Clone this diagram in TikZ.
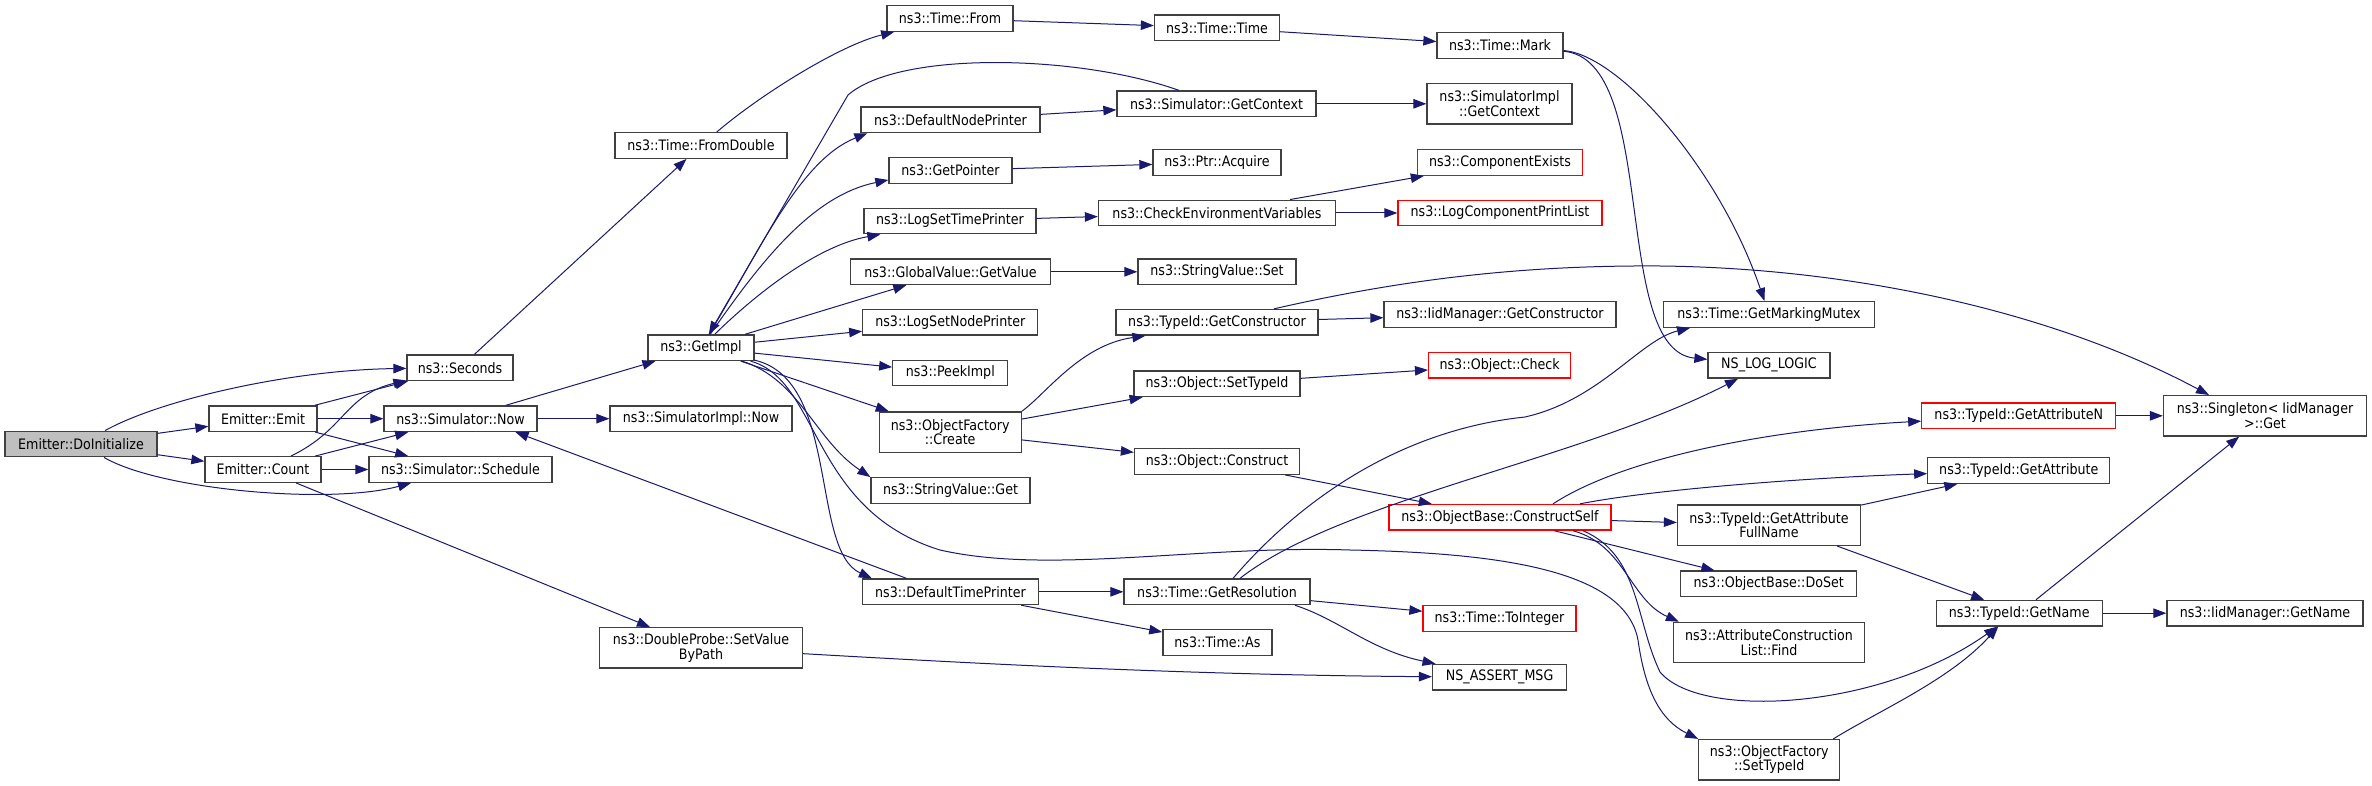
\documentclass[tikz,border=0pt]{standalone}
\usepackage{fontspec}
\setmainfont{DejaVu Sans}[FakeStretch=0.88]
\usepackage{xcolor}
\usepackage{tikz}
\usetikzlibrary{arrows.meta}
\definecolor{edgeblue}{RGB}{25,25,112}
\definecolor{boxline}{RGB}{64,64,64}
\definecolor{rootfill}{RGB}{191,191,191}

\begin{document}
\begin{tikzpicture}[
    x=1pt, y=-1pt,
    fn/.style={draw=boxline,line width=1.3pt,fill=white,inner sep=0pt,minimum height=25.6pt,
      font=\fontsize{14.4}{14.6}\selectfont},
    fn2/.style={fn,minimum height=40.3pt,align=center},
    fnred/.style={fn,draw=red},
    root/.style={fn,fill=rootfill},
    call/.style={draw=edgeblue,line width=1pt,->},
    >={Triangle[length=13pt,width=9.5pt]}
]
\useasboundingbox (0,0) rectangle (2372,786);
% columns left to right
\node[root, minimum width=152pt] (doinit) at (81,444) {Emitter::DoInitialize};
\node[fn, minimum width=108pt] (emit) at (263,418.7) {Emitter::Emit};
\node[fn, minimum width=116pt] (count) at (263,469.5) {Emitter::Count};
\node[fn, minimum width=106pt] (seconds) at (460,367.7) {ns3::Seconds};
\node[fn, minimum width=153pt] (simnow) at (460.5,418.7) {ns3::Simulator::Now};
\node[fn, minimum width=183pt] (schedule) at (460.5,469.5) {ns3::Simulator::Schedule};
\node[fn, minimum width=182pt] (simimplnow) at (701,418.7) {ns3::SimulatorImpl::Now};
\node[fn, minimum width=106pt] (getimpl) at (701,347.7) {ns3::GetImpl};
\node[fn, minimum width=172pt] (fromdouble) at (701,145.5) {ns3::Time::FromDouble};
\node[fn2, minimum width=203pt] (setvalue) at (701,647.8) {ns3::DoubleProbe::SetValue\\ByPath};
\node[fn, minimum width=126pt] (timefrom) at (950,18.5) {ns3::Time::From};
\node[fn, minimum width=179pt] (defnodeprinter) at (950.5,119.8) {ns3::DefaultNodePrinter};
\node[fn, minimum width=123pt] (getpointer) at (950.5,170.5) {ns3::GetPointer};
\node[fn, minimum width=172pt] (logsettime) at (950,221) {ns3::LogSetTimePrinter};
\node[fn, minimum width=200pt] (globalvalue) at (950.5,271.8) {ns3::GlobalValue::GetValue};
\node[fn, minimum width=175pt] (logsetnode) at (950.3,322.3) {ns3::LogSetNodePrinter};
\node[fn, minimum width=115pt] (peekimpl) at (950.3,373) {ns3::PeekImpl};
\node[fn2, minimum width=142pt] (ofcreate) at (950.2,432) {ns3::ObjectFactory\\::Create};
\node[fn, minimum width=159pt] (svget) at (950.5,490.5) {ns3::StringValue::Get};
\node[fn, minimum width=176pt] (deftimeprinter) at (950.5,591.8) {ns3::DefaultTimePrinter};
\node[fn, minimum width=125pt] (timetime) at (1217,27.8) {ns3::Time::Time};
\node[fn, minimum width=199pt] (getcontext) at (1216.5,103.8) {ns3::Simulator::GetContext};
\node[fn, minimum width=128pt] (acquire) at (1217,162.5) {ns3::Ptr::Acquire};
\node[fn, minimum width=237pt] (checkenv) at (1217,213) {ns3::CheckEnvironmentVariables};
\node[fn, minimum width=158pt] (svset) at (1217,271.8) {ns3::StringValue::Set};
\node[fn, minimum width=202pt] (getconstructor) at (1217,322.3) {ns3::TypeId::GetConstructor};
\node[fn, minimum width=166pt] (objsettypeid) at (1217,383.8) {ns3::Object::SetTypeId};
\node[fn, minimum width=165pt] (objconstruct) at (1217,461.5) {ns3::Object::Construct};
\node[fn, minimum width=186pt] (getresolution) at (1217,591.8) {ns3::Time::GetResolution};
\node[fn, minimum width=109pt] (timeas) at (1217.4,642.5) {ns3::Time::As};
\node[fn, minimum width=126pt] (timemark) at (1500,45.5) {ns3::Time::Mark};
\node[fn2, minimum width=145pt] (simimplgetcontext) at (1499.5,103.8) {ns3::SimulatorImpl\\::GetContext};
\node[fnred, minimum width=165pt] (compexists) at (1500,162.5) {ns3::ComponentExists};
\node[fnred, minimum width=204pt] (logcompprint) at (1500,213) {ns3::LogComponentPrintList};
\node[fn, minimum width=232pt] (iidgetconstructor) at (1500,314.5) {ns3::IidManager::GetConstructor};
\node[fnred, minimum width=142pt] (objcheck) at (1499.6,365.3) {ns3::Object::Check};
\node[fnred, minimum width=222pt] (constructself) at (1500,517.3) {ns3::ObjectBase::ConstructSelf};
\node[fnred, minimum width=153pt] (tointeger) at (1499.5,618.5) {ns3::Time::ToInteger};
\node[fn, minimum width=134pt] (nsassert) at (1499.6,677.2) {NS\_ASSERT\_MSG};
\node[fn, minimum width=211pt] (markingmutex) at (1769,314.5) {ns3::Time::GetMarkingMutex};
\node[fn, minimum width=122pt] (nsloglogic) at (1769,365.3) {NS\_LOG\_LOGIC};
\node[fn2, minimum width=183pt] (getattrfullname) at (1769,525.2) {ns3::TypeId::GetAttribute\\FullName};
\node[fn, minimum width=176pt] (doset) at (1768.7,583.8) {ns3::ObjectBase::DoSet};
\node[fn2, minimum width=191pt] (attrfind) at (1769,642.5) {ns3::AttributeConstruction\\List::Find};
\node[fn2, minimum width=141pt] (ofsettypeid) at (1769.3,759.7) {ns3::ObjectFactory\\::SetTypeId};
\node[fnred, minimum width=194pt] (getattrn) at (2018.8,415.8) {ns3::TypeId::GetAttributeN};
\node[fn, minimum width=182pt] (getattribute) at (2018.8,470.5) {ns3::TypeId::GetAttribute};
\node[fn, minimum width=166pt] (getname) at (2019.2,613.2) {ns3::TypeId::GetName};
\node[fn2, minimum width=203pt] (singleton) at (2265,415.8) {ns3::Singleton< IidManager\\>::Get};
\node[fn, minimum width=196pt] (iidgetname) at (2265,613.2) {ns3::IidManager::GetName};
% calls
\draw[call] (doinit) -- (emit);
\draw[call] (doinit) -- (count);
\draw[call] (doinit) .. controls (160,400) and (290,370) .. (seconds);
\draw[call] (doinit) .. controls (160,490) and (330,505) .. (schedule);
\draw[call] (emit) -- (seconds);
\draw[call] (emit) -- (simnow);
\draw[call] (emit) -- (schedule);
\draw[call] (count) .. controls (345,430) and (345,395) .. (seconds);
\draw[call] (count) -- (simnow);
\draw[call] (count) -- (schedule);
\draw[call] (count) -- (setvalue);
\draw[call] (seconds) -- (fromdouble);
\draw[call] (simnow) -- (getimpl);
\draw[call] (simnow) -- (simimplnow);
\draw[call] ([xshift=-44pt]deftimeprinter.north) -- ([xshift=55pt]simnow.south);
\draw[call] (fromdouble) .. controls (760,95) and (840,45) .. (timefrom);
\draw[call] (timefrom) -- (timetime);
\draw[call] (timetime) -- (timemark);
\draw[call] (timemark) .. controls (1620,55) and (1720,170) .. (markingmutex);
\draw[call] (timemark) .. controls (1660,60) and (1610,350) .. (nsloglogic);
\draw[call] (getcontext) .. controls (1080,55) and (900,50) .. (848,95) -- (getimpl);
\draw[call] (getcontext) -- (simimplgetcontext);
\draw[call] (getimpl) .. controls (760,250) and (800,160) .. ([xshift=7pt]defnodeprinter.south west);
\draw[call] (defnodeprinter) -- (getcontext);
\draw[call] (getimpl) .. controls (765,255) and (815,195) .. ([yshift=4pt]getpointer.south west);
\draw[call] (getpointer) -- (acquire);
\draw[call] (getimpl) .. controls (760,290) and (820,245) .. ([xshift=17pt]logsettime.south west);
\draw[call] (logsettime) -- (checkenv);
\draw[call] ([xshift=73pt]checkenv.north) -- (compexists);
\draw[call] (checkenv) -- (logcompprint);
\draw[call] (getimpl) -- (globalvalue);
\draw[call] (globalvalue) -- (svset);
\draw[call] (getimpl) -- (logsetnode);
\draw[call] (getimpl) -- (peekimpl);
\draw[call] (getimpl) -- (ofcreate);
\draw[call] (getimpl) .. controls (800,380) and (815,440) .. (svget.north west);
\draw[call] (getimpl) .. controls (840,380) and (810,550) .. ([xshift=10pt]deftimeprinter.north west);
\draw[call] (getimpl) .. controls (820,380) and (810,510) .. (940,550)
    .. controls (1050,575) and (1200,545) .. (1350,550)
    .. controls (1500,553) and (1625,570) .. (1638,640)
    .. controls (1645,690) and (1660,720) .. (ofsettypeid.north west);
\draw[call] (ofcreate.north east) .. controls (1045,395) and (1080,345) .. ([xshift=30pt]getconstructor.south west);
\draw[call] (ofcreate) -- (objsettypeid);
\draw[call] (ofcreate) -- (objconstruct);
\draw[call] (getconstructor) -- (iidgetconstructor);
\draw[call] ([xshift=57pt]getconstructor.north) .. controls (1400,280) and (1520,265) .. (1660,266)
    .. controls (1850,268) and (2050,310) .. ([xshift=-56pt]singleton.north);
\draw[call] (objsettypeid) -- (objcheck);
\draw[call] (objconstruct) -- (constructself);
\draw[call] (deftimeprinter) -- (getresolution);
\draw[call] (deftimeprinter) -- (timeas);
\draw[call] ([xshift=16pt]getresolution.north) .. controls (1300,500) and (1400,430) .. (1525,417)
    .. controls (1600,400) and (1640,340) .. ([xshift=-79pt]markingmutex.south);
\draw[call] ([xshift=23pt]getresolution.north) .. controls (1340,500) and (1580,460) .. ([xshift=-31pt]nsloglogic.south);
\draw[call] (getresolution) -- (tointeger);
\draw[call] ([xshift=78pt]getresolution.south) .. controls (1340,620) and (1370,650) .. (nsassert);
\draw[call] (setvalue) .. controls (1000,665) and (1200,675) .. (nsassert);
\draw[call] ([xshift=53pt]constructself.north) .. controls (1620,460) and (1760,430) .. (getattrn);
\draw[call] ([xshift=80pt]constructself.north) .. controls (1650,490) and (1800,478) .. (getattribute);
\draw[call] (constructself) -- (getattrfullname);
\draw[call] (constructself) -- (doset);
\draw[call] ([xshift=73pt]constructself.south) .. controls (1625,545) and (1630,600) .. ([xshift=6pt]attrfind.north west);
\draw[call] ([xshift=83pt]constructself.south) .. controls (1640,555) and (1635,620) .. (1660,672)
    .. controls (1700,720) and (1880,710) .. ([xshift=-22pt]getname.south);
\draw[call] (getattrn) -- (singleton);
\draw[call] (getattrfullname) -- (getattribute);
\draw[call] ([xshift=68pt]getattrfullname.south) -- ([xshift=-35pt]getname.north);
\draw[call] (getname) -- (singleton);
\draw[call] (getname) -- (iidgetname);
\draw[call] ([xshift=64pt]ofsettypeid.north) .. controls (1880,710) and (1950,680) .. ([xshift=-21pt]getname.south);
\end{tikzpicture}
\end{document}
